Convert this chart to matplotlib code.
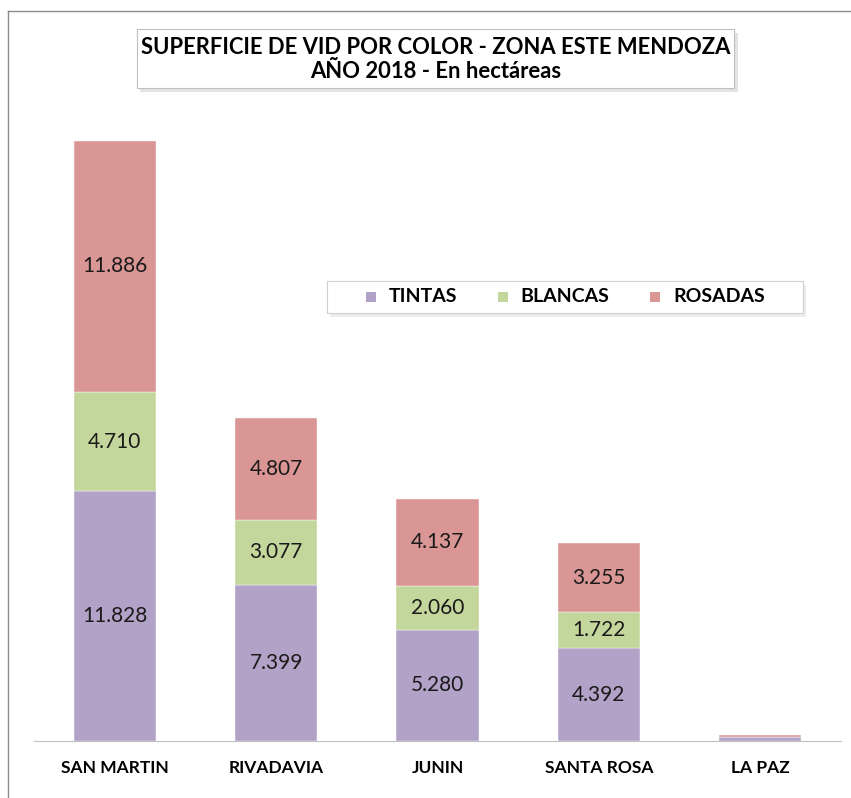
import matplotlib
matplotlib.use("Agg")
import matplotlib.pyplot as plt
from matplotlib.patches import Rectangle

plt.rcParams['font.family'] = ['Lato', 'DejaVu Sans']

W, H = 851, 798

departamentos = ["SAN MARTIN", "RIVADAVIA", "JUNIN", "SANTA ROSA", "LA PAZ"]
tintas = [11828, 7399, 5280, 4392, 170]
blancas = [4710, 3077, 2060, 1722, 25]
rosadas = [11886, 4807, 4137, 3255, 70]

series = [("TINTAS", tintas, "#b2a2c7"),
          ("BLANCAS", blancas, "#c3d69b"),
          ("ROSADAS", rosadas, "#d99694")]


def fmt(v):
    return f"{v:,}".replace(",", ".")


def px(x0, y0, x1, y1):
    # pixel box (top-left origin) -> figure fraction rect
    return [x0 / W, 1 - y1 / H, (x1 - x0) / W, (y1 - y0) / H]


def fx(x):
    return x / W


def fy(y):
    return 1 - y / H


fig = plt.figure(figsize=(W / 100, H / 100), dpi=100)

# outer frame (top and left lines visible in the crop)
fig.add_artist(plt.Line2D([fx(8), 1], [fy(11), fy(11)], color="#8c8c8c", lw=1))
fig.add_artist(plt.Line2D([fx(8), fx(8)], [0, fy(11)], color="#8c8c8c", lw=1))

ymax = 30000
top_px = 741 - ymax * 600 / 28424
ax = fig.add_axes(px(34, top_px, 841, 741))

x = range(len(departamentos))
bottom = [0] * len(departamentos)
for name, vals, color in series:
    ax.bar(x, vals, width=0.51, bottom=bottom, color=color,
           edgecolor="white", linewidth=0.3)
    for i, v in enumerate(vals):
        if v > 1000:
            ax.text(i, bottom[i] + v / 2, fmt(v), ha="center", va="center",
                    fontsize=15, color="#1a1a1a")
    bottom = [b + v for b, v in zip(bottom, vals)]

ax.set_xlim(-0.5, len(departamentos) - 0.5)
ax.set_ylim(0, ymax)
ax.set_yticks([])
ax.set_xticks(list(x))
ax.set_xticklabels(departamentos, fontsize=12.5, fontweight="bold")
ax.tick_params(axis="x", length=0, pad=14)
for s in ["top", "right", "left"]:
    ax.spines[s].set_visible(False)
ax.spines["bottom"].set_color("#bfbfbf")

# title box with shadow
fig.add_artist(Rectangle((fx(140), fy(92)), 598 / W, 59 / H,
                         transform=fig.transFigure, facecolor="#e3e3e3",
                         edgecolor="none", zorder=1))
fig.add_artist(Rectangle((fx(137), fy(88)), 597 / W, 59 / H,
                         transform=fig.transFigure, facecolor="white",
                         edgecolor="#bfbfbf", lw=0.8, zorder=2))
fig.text(fx(435.5), fy(47), "SUPERFICIE DE VID POR COLOR - ZONA ESTE MENDOZA",
         ha="center", va="center", fontsize=15.8, fontweight="bold", zorder=3)
fig.text(fx(435.5), fy(72), "AÑO 2018 - En hectáreas",
         ha="center", va="center", fontsize=15.8, fontweight="bold", zorder=3)

# legend box with shadow
fig.add_artist(Rectangle((fx(330), fy(317)), 476 / W, 32 / H,
                         transform=fig.transFigure, facecolor="#ececec",
                         edgecolor="none", zorder=1))
fig.add_artist(Rectangle((fx(327), fy(313)), 476 / W, 32 / H,
                         transform=fig.transFigure, facecolor="white",
                         edgecolor="#d0d0d0", lw=0.8, zorder=2))
marker_x = [366, 498, 650]
text_x = [389, 520, 673]
for (name, _, color), mx, tx in zip(series, marker_x, text_x):
    fig.add_artist(Rectangle((fx(mx), fy(302)), 10 / W, 10 / H,
                             transform=fig.transFigure, facecolor=color,
                             edgecolor="none", zorder=3))
    fig.text(fx(tx), fy(297), name, ha="left", va="center", fontsize=14,
             fontweight="bold", zorder=3)

fig.savefig("out.png", dpi=100, facecolor="white")
